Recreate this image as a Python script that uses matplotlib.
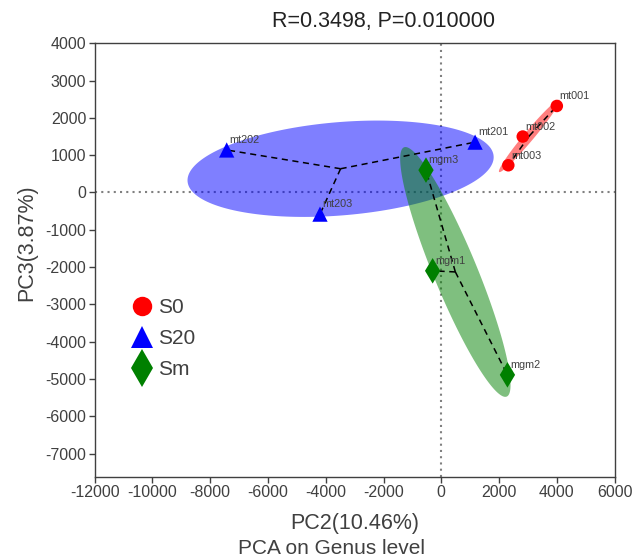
import numpy as np
import matplotlib
matplotlib.use("Agg")
import matplotlib.pyplot as plt
from matplotlib.lines import Line2D

plt.rcParams['font.family'] = ['Liberation Sans', 'DejaVu Sans']
plt.rcParams['axes.unicode_minus'] = False

# PCA scores
groups = ['S0', 'S20', 'Sm']
samples = {
    'S0': ['mt001', 'mt002', 'mt003'],
    'S20': ['mt201', 'mt202', 'mt203'],
    'Sm': ['mgm3', 'mgm1', 'mgm2'],
}
pc2 = {
    'S0': [4000, 2820, 2320],
    'S20': [1170, -7430, -4200],
    'Sm': [-530, -300, 2290],
}
pc3 = {
    'S0': [2320, 1500, 730],
    'S20': [1350, 1140, -580],
    'Sm': [600, -2100, -4890],
}
xticks = list(range(-12000, 6001, 2000))
yticks = list(range(-7000, 4001, 1000))

colors = {'S0': '#ff0000', 'S20': '#0000ff', 'Sm': '#008000'}
markers = {'S0': 'o', 'S20': '^', 'Sm': 'd'}
msize = {'S0': 9, 'S20': 11, 'Sm': 13}
lsize = {'S0': 14, 'S20': 16, 'Sm': 19}
ell_k = 1.22  # ellipse scale on the group covariance

fig = plt.figure(figsize=(6.36, 5.58), dpi=100)
ax = fig.add_axes([94.7 / 636, 1 - 476.7 / 558, 519.9 / 636, 433.4 / 558])

ax.axhline(0, color='#808080', lw=1.5, ls=(0, (1, 2)), zorder=1)
ax.axvline(0, color='#808080', lw=1.5, ls=(0, (1, 2)), zorder=1)

t = np.linspace(0, 2 * np.pi, 200)
for g in groups:
    x = np.array(pc2[g], float)
    y = np.array(pc3[g], float)
    pts = np.vstack([x, y])
    mu = pts.mean(axis=1)
    cov = np.cov(pts)
    vals, vecs = np.linalg.eigh(cov)
    circ = np.vstack([np.cos(t), np.sin(t)])
    ell = mu[:, None] + ell_k * vecs @ (np.sqrt(np.maximum(vals, 0))[:, None] * circ)
    ax.fill(ell[0], ell[1], color=colors[g], alpha=0.5, lw=0, zorder=2)
    # spider lines to centroid
    for xi, yi in zip(x, y):
        ax.plot([mu[0], xi], [mu[1], yi], color='black', lw=1.1,
                ls=(0, (4, 3)), zorder=3)
    ax.scatter(x, y, s=msize[g] ** 2, marker=markers[g], color=colors[g],
               edgecolors='none', zorder=4)
    for name, xi, yi in zip(samples[g], x, y):
        ax.annotate(name, (xi, yi), xytext=(2, 7), textcoords='offset points',
                    ha='left', va='center', fontsize=7.8, color='#404040', zorder=5)

ax.set_xlim(-12000, 6000)
ax.set_ylim(-7620, 4000)
ax.set_xticks(xticks)
ax.set_yticks(yticks)
ax.tick_params(direction='out', length=4, width=1, colors='#404040',
               labelsize=11.5, pad=2)
for s in ax.spines.values():
    s.set_color('#404040')
    s.set_linewidth(1)

ax.set_xlabel('PC2(10.46%)', fontsize=15.5, color='#404040')
ax.xaxis.set_label_coords(0.5, -0.083)
ax.set_ylabel('PC3(3.87%)', fontsize=15.5, color='#404040')
ax.yaxis.set_label_coords(-0.11, 0.54)

fig.text(384 / 636, 1 - 22 / 558, 'R=0.3498, P=0.010000', ha='center',
         va='center', fontsize=15.5, color='#222222')
fig.text(331 / 636, 1 - 549 / 558, 'PCA on Genus level', ha='center',
         va='center', fontsize=15, color='#404040')

handles = [Line2D([], [], ls='none', marker=markers[g], color=colors[g],
                  markersize=lsize[g], markeredgewidth=0) for g in groups]
ax.legend(handles, groups, loc='upper left', bbox_to_anchor=(0.04, 0.436),
          frameon=False, fontsize=15, handletextpad=0.05, labelspacing=0.58,
          borderpad=0, handlelength=1.5, labelcolor='#404040')

fig.savefig('out.png', dpi=100)
